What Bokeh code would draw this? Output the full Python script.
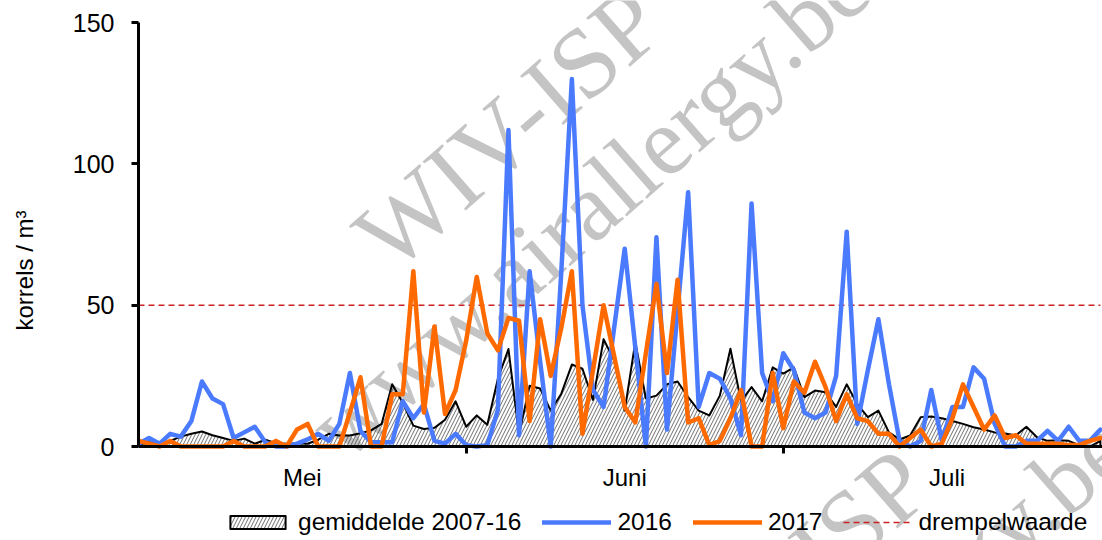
from bokeh.plotting import figure
from bokeh.models import Range1d, FixedTicker, Legend, LegendItem, Label
from bokeh.embed import file_html
from bokeh.resources import INLINE

# ---------------- data ----------------
months = ["Mei", "Juni", "Juli"]
month_lengths = [31, 30, 31]

mean_2007_16 = [0.6, 1.5, 1, 2, 3.5, 4.5, 5.3, 4, 3, 2,
                2.8, 1, 2.4, 1.2, 1, 1.2, 1, 2.4, 4.5, 3.9,
                3.9, 4.7, 5.7, 8, 22, 15.5, 7.4, 6.2, 6.6, 9.5,
                16, 7, 11, 7.7, 24, 34.5, 4.2, 21.5, 20.5, 12.7,
                18.7, 29, 27.5, 16.5, 38, 30.4, 12.7, 37, 17, 18,
                22, 23, 17.5, 12.7, 11, 18, 34.6, 16, 21, 16,
                28, 25.8, 28, 17.5, 19.8, 19.2, 14, 22, 15, 10.4,
                12.7, 5, 2.5, 3.9, 10.4, 10.6, 10, 9, 8, 6.8,
                6, 5, 4.6, 3.9, 7, 3.3, 2, 2.2, 2, 0.5,
                0, 2]

pollen_2016 = [1, 3, 1, 4.5, 3.5, 9, 23, 17, 15, 3,
               5, 7, 1.5, 0, 0, 1, 2.5, 4.5, 2, 8,
               26, 5.5, 1.5, 1.5, 1.5, 16, 10, 15, 2, 1,
               4.5, 0.5, 0, 0.5, 13, 112, 4, 62, 30, 0,
               62, 130, 50, 20, 14, 42, 70, 35, 0, 74,
               6, 48, 90, 14, 26, 24, 17, 4, 86, 26,
               16, 33, 27, 12, 10, 12, 25, 76, 8, 27,
               45, 22, 2, 0, 2, 20, 2, 14, 14, 28,
               24, 8, 0, 0, 2, 2, 5.5, 2, 7, 2,
               2, 6]

pollen_2017 = [2, 1, 0, 2, 0, 0, 0, 0, 0, 2,
               0, 0, 0, 2, 0, 6, 8, 0, 0, 0,
               12, 24.5, 0, 0, 18.5, 18.5, 62, 12, 42.5, 11.5,
               20, 37.5, 60, 40, 34, 45.5, 44.5, 9, 45, 25,
               42, 62, 4.5, 27, 50, 32, 14, 8.5, 33, 57.5,
               26, 59, 8.5, 10, 0.5, 2, 10, 20, 0, 0,
               26, 6.5, 23, 19, 30, 21, 9, 18.5, 10, 9,
               4.5, 4.5, 0, 3, 6, 0, 1, 10, 22, 14,
               6, 11, 3, 4, 1, 1, 1, 1, 0.5, 0.5,
               2, 3]

threshold = 50
y_ticks = [0, 50, 100, 150]
y_axis_bounds = (0, 150)

labels = ["gemiddelde 2007-16", "2016", "2017", "drempelwaarde"]

# ---------------- derived ----------------
n_days = sum(month_lengths)
days = list(range(n_days))
month_starts = [sum(month_lengths[:i]) for i in range(len(month_lengths))]
month_centers = [s + l / 2 for s, l in zip(month_starts, month_lengths)]
threshold_line = [threshold] * n_days

FONT = "Liberation Sans"
BLUE = "#4a7afe"
ORANGE = "#ff6a00"
RED = "#cc2222"

# The frame spans the full canvas height; the y range is widened so that
# 0..150 falls where the reference axis is, and the x axis is pinned at y=0.
p = figure(width=1102, height=540,
           x_range=Range1d(0, n_days - 0.8), y_range=Range1d(-33.25, 157.8),
           output_backend="svg", toolbar_location=None,
           min_border_left=138, min_border_right=0,
           min_border_top=0, min_border_bottom=0)
p.grid.visible = False
p.outline_line_color = None
p.background_fill_color = "white"

# watermark (decoration, drawn under the data)
wm = dict(angle=0.72, text_align="center", text_baseline="middle",
          text_font="Liberation Serif", text_color="#c4c4c4",
          level="underlay")
for (wx, wy, txt, fs) in [(35.0, 112.5, "WIV-ISP", "100px"),
                          (42.6, 85.0, "www.airallergy.be", "97px"),
                          (60.3, -50.9, "WIV-ISP", "100px"),
                          (67.2, -78.5, "www.airallergy.be", "97px")]:
    p.add_layout(Label(x=wx, y=wy, text=txt, text_font_size=fs, **wm))

# mean area (hatched)
area_x = days + [days[-1], days[0]]
area_y = mean_2007_16 + [0, 0]
r_mean = p.patch(area_x, area_y, fill_color="white", fill_alpha=0.0,
                 hatch_pattern="/", hatch_color="#555555", hatch_scale=7,
                 hatch_weight=1, hatch_alpha=0.85,
                 line_color="black", line_width=2, line_join="round")

r_thr = p.line(days, threshold_line, line_color=RED, line_width=1.5,
               line_dash="6 4")
r16 = p.line(days, pollen_2016, line_color=BLUE, line_width=4.5,
             line_join="round", line_cap="round")
r17 = p.line(days, pollen_2017, line_color=ORANGE, line_width=4.5,
             line_join="round", line_cap="round")

# axes
yax = p.yaxis[0]
yax.ticker = FixedTicker(ticks=y_ticks)
yax.bounds = y_axis_bounds
yax.axis_line_width = 3
yax.axis_line_color = "black"
yax.major_tick_line_width = 3
yax.major_tick_out = 7
yax.major_tick_in = 0
yax.minor_tick_line_color = None
yax.major_label_text_font = FONT
yax.major_label_text_font_size = "25px"
yax.major_label_text_color = "black"
yax.major_label_standoff = 17
yax.axis_label = "korrels / m³"
yax.axis_label_text_font = FONT
yax.axis_label_text_font_size = "24px"
yax.axis_label_text_font_style = "normal"
yax.axis_label_text_color = "black"
yax.axis_label_standoff = 32

xax = p.xaxis[0]
xax.fixed_location = 0
xax.ticker = FixedTicker(ticks=month_centers, minor_ticks=month_starts[1:])
xax.major_label_overrides = {c: m for c, m in zip(month_centers, months)}
xax.axis_line_width = 3
xax.axis_line_color = "black"
xax.major_tick_line_color = None
xax.major_tick_out = 0
xax.major_tick_in = 0
xax.minor_tick_line_color = "black"
xax.minor_tick_line_width = 3
xax.minor_tick_out = 7
xax.minor_tick_in = 0
xax.major_label_text_font = FONT
xax.major_label_text_font_size = "24px"
xax.major_label_text_color = "black"
xax.major_label_standoff = 10

legend = Legend(items=[LegendItem(label=labels[0], renderers=[r_mean]),
                       LegendItem(label=labels[1], renderers=[r16]),
                       LegendItem(label=labels[2], renderers=[r17]),
                       LegendItem(label=labels[3], renderers=[r_thr])],
                orientation="horizontal", location=(85, 4),
                label_text_font=FONT, label_text_font_size="24.5px",
                label_text_color="black", glyph_width=69, glyph_height=16,
                label_standoff=6, spacing=21, padding=0, margin=0,
                border_line_color=None, background_fill_alpha=0)
p.add_layout(legend)

open("out.html", "w").write(file_html(p, INLINE))
